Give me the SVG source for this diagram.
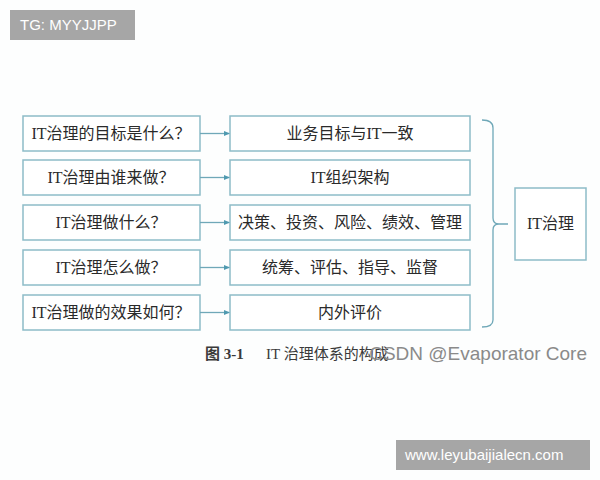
<svg xmlns="http://www.w3.org/2000/svg" width="600" height="480" viewBox="0 0 600 480">
<defs>
<style>
.box{fill:#ffffff;stroke:#8dbcc8;stroke-width:1.5}
.t{font-family:"Liberation Serif","Noto Sans CJK SC",serif;font-size:16px;fill:#2a2a2a;text-anchor:middle}
.conn{stroke:#6fa8b8;stroke-width:1.3;fill:none}
.wm{fill:#a6a6a6}
.wmt{font-family:"Liberation Sans",Arial,sans-serif;font-size:15px;fill:#ffffff}
.cap{font-family:"Liberation Serif","Noto Sans CJK SC",serif;font-size:15px;fill:#3a3a3a}
</style>
<marker id="ah" markerWidth="6" markerHeight="6" refX="5" refY="3" orient="auto" markerUnits="userSpaceOnUse">
<path d="M0,0.5 L6,3 L0,5.5 z" fill="#4f9ab0"/>
</marker>
</defs>
<rect width="600" height="480" fill="#fdfefe"/>
<g id="wm-top"><rect class="wm" x="10" y="10" width="125" height="30"/><text class="wmt" x="20" y="30">TG: MYYJJPP</text></g>
<g id="q1"><rect class="box" x="23" y="116" width="177" height="35"/><text class="t" x="111" y="139">IT治理的目标是什么？</text></g>
<g id="q2"><rect class="box" x="23" y="160" width="177" height="35"/><text class="t" x="111" y="183">IT治理由谁来做？</text></g>
<g id="q3"><rect class="box" x="23" y="205" width="177" height="35"/><text class="t" x="111" y="228">IT治理做什么？</text></g>
<g id="q4"><rect class="box" x="23" y="250" width="177" height="35"/><text class="t" x="111" y="273">IT治理怎么做？</text></g>
<g id="q5"><rect class="box" x="23" y="295" width="177" height="35"/><text class="t" x="111" y="318">IT治理做的效果如何？</text></g>
<g id="a1"><rect class="box" x="230" y="116" width="240" height="35"/><text class="t" x="350" y="139">业务目标与IT一致</text></g>
<g id="a2"><rect class="box" x="230" y="160" width="240" height="35"/><text class="t" x="350" y="183">IT组织架构</text></g>
<g id="a3"><rect class="box" x="230" y="205" width="240" height="35"/><text class="t" x="350" y="228">决策、投资、风险、绩效、管理</text></g>
<g id="a4"><rect class="box" x="230" y="250" width="240" height="35"/><text class="t" x="350" y="273">统筹、评估、指导、监督</text></g>
<g id="a5"><rect class="box" x="230" y="295" width="240" height="35"/><text class="t" x="350" y="318">内外评价</text></g>
<g id="it"><rect class="box" x="515" y="188" width="71" height="72"/><text class="t" x="550.5" y="229">IT治理</text></g>
<g id="connectors">
<line class="conn" x1="200" y1="133.5" x2="229" y2="133.5" marker-end="url(#ah)"/>
<line class="conn" x1="200" y1="177.5" x2="229" y2="177.5" marker-end="url(#ah)"/>
<line class="conn" x1="200" y1="222.5" x2="229" y2="222.5" marker-end="url(#ah)"/>
<line class="conn" x1="200" y1="267.5" x2="229" y2="267.5" marker-end="url(#ah)"/>
<line class="conn" x1="200" y1="312.5" x2="229" y2="312.5" marker-end="url(#ah)"/>
<path class="conn" stroke="#8dbcc8" d="M482,120 Q493,120 493,128 L493,218 Q493,224 499,224 L508,224 M499,224 Q493,224 493,230 L493,320 Q493,327 482,327"/>
</g>
<g id="caption">
<text class="cap" x="205" y="359" font-weight="bold">图 3-1</text>
<text class="cap" x="266" y="359">IT 治理体系的构成</text>
<text x="587" y="360" text-anchor="end" style="font-family:'Liberation Sans',Arial,sans-serif;font-size:19px;fill:#8a8a8a">CSDN @Evaporator Core</text>
</g>
<g id="wm-bottom"><rect class="wm" x="396" y="440" width="194" height="30"/><text class="wmt" x="405" y="460">www.leyubaijialecn.com</text></g>
</svg>
